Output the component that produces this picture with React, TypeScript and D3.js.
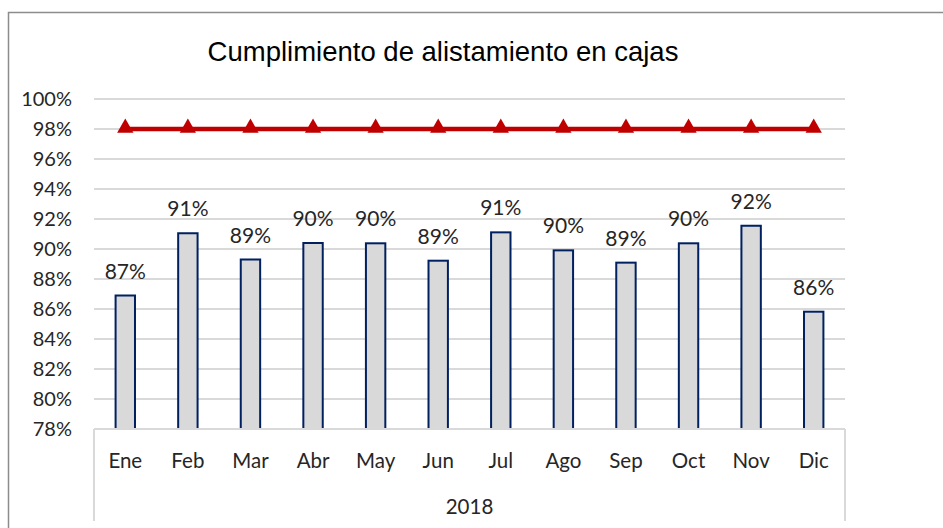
import React from "react";
import * as d3 from "d3";

const months = ["Ene", "Feb", "Mar", "Abr", "May", "Jun", "Jul", "Ago", "Sep", "Oct", "Nov", "Dic"];
const cumplimiento = [86.9, 91.05, 89.3, 90.4, 90.38, 89.22, 91.11, 89.91, 89.09, 90.38, 91.55, 85.82];
const meta = [98, 98, 98, 98, 98, 98, 98, 98, 98, 98, 98, 98];
const yTicks = [78, 80, 82, 84, 86, 88, 90, 92, 94, 96, 98, 100];
const year = "2018";
const title = "Cumplimiento de alistamiento en cajas";

const App = () => {
  const width = 943;
  const height = 528;
  const left = 94;
  const right = 845;
  const top = 99;
  const bottom = 429;

  const xScale = d3.scaleBand().domain(months).range([left, right]).paddingInner(0.69).paddingOuter(0.345);
  const yScale = d3.scaleLinear().domain([78, 100]).range([bottom, top]);
  const cx = (m: string) => (xScale(m) as number) + xScale.bandwidth() / 2;

  const line = d3
    .line<number>()
    .x((_, i) => cx(months[i]))
    .y((v) => yScale(v));

  const tri = d3.symbol().type(d3.symbolTriangle).size(115);
  const labelFont = "Lato, 'Open Sans', sans-serif";

  return (
    <svg
      width={width}
      height={height}
      style={{ position: "absolute", left: 0, top: 0, background: "#fff" }}
    >
      <rect x={8.5} y={12.5} width={width} height={height} fill="#fff" stroke="#8c8c8c" strokeWidth={1.5} />
      <text
        x={443}
        y={61}
        textAnchor="middle"
        fontFamily="'Liberation Sans', Arial, sans-serif"
        fontSize={27.5}
        fill="#000"
      >
        {title}
      </text>

      {yTicks.map((t) => (
        <g key={t}>
          {t !== 78 && (
            <line x1={left} x2={right} y1={yScale(t)} y2={yScale(t)} stroke="#d9d9d9" strokeWidth={2} />
          )}
          <text
            x={72}
            y={yScale(t) + 7}
            textAnchor="end"
            fontFamily={labelFont}
            fontSize={20}
            fill="#262626"
          >
            {t}%
          </text>
        </g>
      ))}

      {months.map((m, i) => (
        <g key={m}>
          <rect
            x={xScale(m)}
            y={yScale(cumplimiento[i])}
            width={xScale.bandwidth()}
            height={bottom - yScale(cumplimiento[i])}
            fill="#d9d9d9"
            stroke="#002060"
            strokeWidth={2}
          />
          <text
            x={cx(m)}
            y={yScale(cumplimiento[i]) - 17}
            textAnchor="middle"
            fontFamily={labelFont}
            fontSize={21}
            fill="#262626"
          >
            {Math.round(cumplimiento[i])}%
          </text>
          <text
            x={cx(m)}
            y={468}
            textAnchor="middle"
            fontFamily={labelFont}
            fontSize={20.5}
            fill="#262626"
          >
            {m}
          </text>
        </g>
      ))}

      <line x1={left} x2={right} y1={bottom} y2={bottom} stroke="#d9d9d9" strokeWidth={2} />
      <line x1={left} x2={left} y1={bottom} y2={521} stroke="#d9d9d9" strokeWidth={2} />
      <line x1={right} x2={right} y1={bottom} y2={521} stroke="#d9d9d9" strokeWidth={2} />
      <text
        x={(left + right) / 2}
        y={514}
        textAnchor="middle"
        fontFamily={labelFont}
        fontSize={20.5}
        fill="#262626"
      >
        {year}
      </text>

      <path d={line(meta) ?? ""} fill="none" stroke="#c00000" strokeWidth={4.5} />
      {meta.map((v, i) => (
        <path
          key={i}
          d={tri() ?? ""}
          transform={`translate(${cx(months[i])},${yScale(v) - 1})`}
          fill="#c00000"
        />
      ))}
    </svg>
  );
};

export default App;
